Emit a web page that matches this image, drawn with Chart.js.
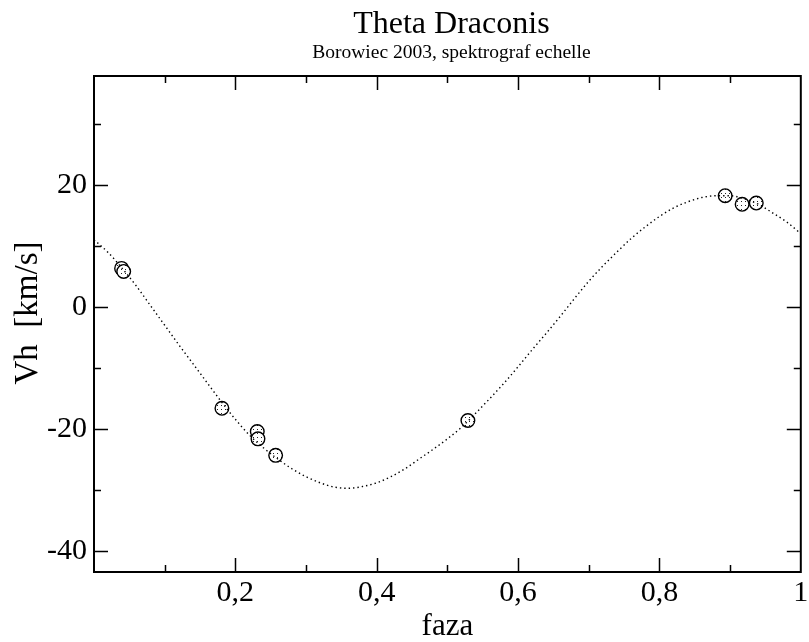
<!DOCTYPE html>
<html><head><meta charset="utf-8">
<script src="https://cdn.jsdelivr.net/npm/chart.js@4.4.0/dist/chart.umd.min.js"></script>
<style>html,body{margin:0;padding:0;background:#fff;}</style>
</head><body>
<canvas id="c" width="809" height="642" style="width:809px;height:642px;display:block"></canvas>
<script>
// ---- data ----
const chartTitle = 'Theta Draconis';
const chartSubtitle = 'Borowiec 2003, spektrograf echelle';
const xAxisTitle = 'faza';
const yAxisTitle = 'Vh  [km/s]';

const phaseObs = [0.039, 0.042, 0.181, 0.231, 0.232, 0.257, 0.529, 0.893, 0.917, 0.937];
const vhObs    = [6.3, 5.8, -16.6, -20.4, -21.6, -24.3, -18.6, 18.2, 16.8, 17.0];

const phaseFit = [0.00,0.02,0.04,0.06,0.08,0.10,0.12,0.14,0.16,0.18,0.20,0.22,0.24,0.26,0.28,0.30,0.32,0.34,0.36,0.38,0.40,0.42,0.44,0.46,0.48,0.50,0.52,0.54,0.56,0.58,0.60,0.62,0.64,0.66,0.68,0.70,0.72,0.74,0.76,0.78,0.80,0.82,0.84,0.86,0.88,0.90,0.92,0.94,0.96,0.98,1.00];
const vhFit    = [11.0,8.9,6.3,3.4,0.2,-3.0,-6.2,-9.3,-12.4,-15.5,-18.4,-21.0,-23.1,-24.9,-26.5,-27.8,-28.8,-29.5,-29.7,-29.4,-28.8,-27.8,-26.5,-24.9,-23.3,-21.6,-19.7,-17.4,-15.0,-12.5,-9.8,-7.0,-4.3,-1.5,1.4,4.2,6.7,9.0,11.2,13.1,14.8,16.2,17.2,17.9,18.2,18.2,17.7,16.8,15.4,13.9,12.0];

const xTickValues = [0,0.1,0.2,0.3,0.4,0.5,0.6,0.7,0.8,0.9,1];
const xLabelTicks = [0.2, 0.4, 0.6, 0.8, 1];
const yTickValues = [-40,-30,-20,-10,0,10,20,30];
const yLabelTicks = [-40, -20, 0, 20];

// ---- styles ----
const FONT = '"Liberation Serif", "Times New Roman", serif';

const pc = document.createElement('canvas');
pc.width = 4; pc.height = 4;
const pctx = pc.getContext('2d');
pctx.fillStyle = '#fff'; pctx.fillRect(0,0,4,4);
pctx.fillStyle = '#222'; pctx.fillRect(1,1,1,1);
const dotPattern = document.getElementById('c').getContext('2d').createPattern(pc, 'repeat');

const near = (a, b) => Math.abs(a - b) < 1e-6;

const framePlugin = {
  id: 'frame',
  afterDraw(chart) {
    const {ctx, chartArea: a, scales} = chart;
    ctx.save();
    ctx.strokeStyle = '#000';
    ctx.lineWidth = 2;
    ctx.strokeRect(a.left, a.top, a.right - a.left, a.bottom - a.top);
    ctx.lineWidth = 1.5;
    ctx.beginPath();
    scales.x.ticks.forEach(t => {
      const px = Math.round(scales.x.getPixelForValue(t.value)) + 0.5;
      const major = xLabelTicks.some(v => near(v, t.value));
      const len = major ? 14 : 7;
      if (px <= a.left + 1 || px >= a.right - 1) return;
      ctx.moveTo(px, a.bottom); ctx.lineTo(px, a.bottom - len);
      ctx.moveTo(px, a.top); ctx.lineTo(px, a.top + len);
    });
    scales.y.ticks.forEach(t => {
      const py = Math.round(scales.y.getPixelForValue(t.value)) + 0.5;
      const major = yLabelTicks.some(v => near(v, t.value));
      const len = major ? 14 : 7;
      ctx.moveTo(a.left, py); ctx.lineTo(a.left + len, py);
      ctx.moveTo(a.right, py); ctx.lineTo(a.right - len, py);
    });
    ctx.stroke();
    // titles centred over the plot area
    const cx = (a.left + a.right) / 2;
    ctx.fillStyle = '#000';
    ctx.textAlign = 'center';
    ctx.textBaseline = 'alphabetic';
    ctx.font = '32px ' + FONT;
    ctx.fillText(chartTitle, cx + 4, 33);
    ctx.font = '19.5px ' + FONT;
    ctx.fillText(chartSubtitle, cx + 4, 58);
    // y axis title
    ctx.save();
    ctx.translate(28, 313);
    ctx.rotate(-Math.PI / 2);
    ctx.textBaseline = 'middle';
    ctx.font = '33px ' + FONT;
    ctx.fillText(yAxisTitle, 0, 0);
    ctx.restore();
    ctx.restore();
  }
};

new Chart(document.getElementById('c'), {
  type: 'scatter',
  data: {
    datasets: [
      {
        label: 'fit',
        data: phaseFit.map((x, i) => ({x, y: vhFit[i]})),
        showLine: true,
        borderColor: '#000',
        borderWidth: 1.4,
        borderDash: [1.4, 3],
        pointRadius: 0,
        fill: false,
        cubicInterpolationMode: 'monotone'
      },
      {
        label: 'obs',
        data: phaseObs.map((x, i) => ({x, y: vhObs[i]})),
        showLine: false,
        pointRadius: 6.8,
        pointBorderWidth: 1.4,
        borderColor: '#000',
        backgroundColor: dotPattern,
        pointBackgroundColor: dotPattern
      }
    ]
  },
  options: {
    responsive: false,
    animation: false,
    devicePixelRatio: 1,
    layout: { padding: { top: 76, right: 7, left: 0, bottom: 0 } },
    plugins: { legend: { display: false }, tooltip: { enabled: false }, title: { display: false } },
    scales: {
      x: {
        type: 'linear',
        min: 0, max: 1,
        grid: { display: false, drawTicks: false },
        border: { display: false },
        afterBuildTicks: (s) => { s.ticks = xTickValues.map(v => ({value: v})); },
        ticks: {
          autoSkip: false,
          maxRotation: 0,
          padding: 3,
          color: '#000',
          font: { family: FONT, size: 30 },
          callback: (v) => {
            const m = xLabelTicks.find(t => near(t, v));
            if (m === undefined) return '';
            return String(m).replace('.', ',');
          }
        },
        title: { display: true, text: xAxisTitle, color: '#000', font: { family: FONT, size: 31, lineHeight: 1.0 }, padding: 0 },
        afterFit: (s) => { s.height = 70; s.paddingRight = 0; s.paddingLeft = 0; }
      },
      y: {
        type: 'linear',
        min: -43.4, max: 37.8,
        grid: { display: false, drawTicks: false },
        border: { display: false },
        afterBuildTicks: (s) => { s.ticks = yTickValues.map(v => ({value: v})); },
        ticks: {
          autoSkip: false,
          padding: 7,
          color: '#000',
          font: { family: FONT, size: 30 },
          callback: (v) => {
            const m = yLabelTicks.find(t => near(t, v));
            return m === undefined ? '' : String(m);
          }
        },
        title: { display: false },
        afterFit: (s) => { s.width = 94; s.paddingTop = 0; s.paddingBottom = 0; }
      }
    }
  },
  plugins: [framePlugin]
});
</script>
</body></html>
